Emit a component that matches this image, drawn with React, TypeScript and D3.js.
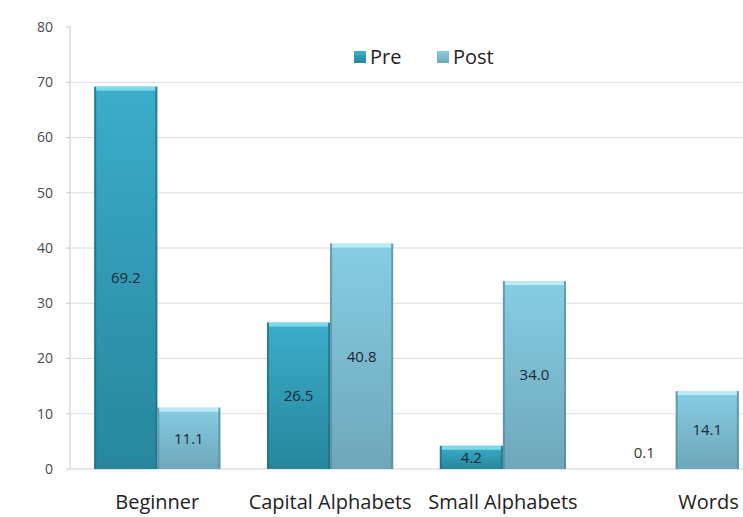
import React from "react";
import * as d3 from "d3";

const categories = ["Beginner", "Capital Alphabets", "Small Alphabets", "Words"];
const seriesNames = ["Pre", "Post"];
const preValues = [69.2, 26.5, 4.2, 0.1];
const postValues = [11.1, 40.8, 34.0, 14.1];
const yTicks = [0, 10, 20, 30, 40, 50, 60, 70, 80];

const W = 743;
const H = 517;
const margin = { top: 27, right: -20, bottom: 48, left: 70 };

const colors: Record<string, { top: string; bottom: string; edge: string; hi: string }> = {
  Pre: { top: "#3badca", bottom: "#27869d", edge: "#1d6e82", hi: "#8fe3f2" },
  Post: { top: "#86cde3", bottom: "#6fa7ba", edge: "#56899c", hi: "#c9f3fb" },
};

export default function App() {
  const x0 = d3
    .scaleBand<string>()
    .domain(categories)
    .range([margin.left, W - margin.right])
    .paddingInner(0.27)
    .paddingOuter(0.14);
  const x1 = d3.scaleBand<string>().domain(seriesNames).range([0, x0.bandwidth()]);
  const y = d3.scaleLinear().domain([0, 80]).range([H - margin.bottom, margin.top]);

  const rows = categories.map((c, i) => ({ cat: c, vals: [preValues[i], postValues[i]] }));
  const font = "'Open Sans', 'Noto Sans', sans-serif";

  return (
    <svg
      width={W}
      height={H}
      style={{ position: "absolute", left: 0, top: 0, background: "#fff" }}
      fontFamily={font}
    >
      <defs>
        {seriesNames.map((s) => (
          <linearGradient key={s} id={`g-${s}`} x1="0" y1="0" x2="0" y2="1">
            <stop offset="0%" stopColor={colors[s].top} />
            <stop offset="100%" stopColor={colors[s].bottom} />
          </linearGradient>
        ))}
      </defs>

      {/* grid + y axis */}
      {yTicks.map((t) => (
        <g key={t}>
          {t > 0 && t < 80 && (
            <line x1={margin.left} x2={W} y1={y(t)} y2={y(t)} stroke="#dcdcdc" strokeWidth={1} />
          )}
          <line x1={margin.left - 4} x2={margin.left} y1={y(t)} y2={y(t)} stroke="#c8c8c8" />
          <text x={53} y={y(t)} dy="0.35em" textAnchor="end" fontSize={14} fill="#4a4a4a">
            {t}
          </text>
        </g>
      ))}
      <line x1={margin.left} x2={margin.left} y1={y(80)} y2={y(0)} stroke="#c8c8c8" />
      <line x1={margin.left} x2={W} y1={y(0)} y2={y(0)} stroke="#d0d0d0" />

      {/* bars */}
      {rows.map((r) => (
        <g key={r.cat} transform={`translate(${x0(r.cat)},0)`}>
          {r.vals.map((v, j) => {
            const s = seriesNames[j];
            const bx = x1(s) ?? 0;
            const bw = x1.bandwidth();
            const top = y(v);
            const h = y(0) - top;
            const labelY = h < 18 ? top - 16 : top + h / 2;
            return (
              <g key={s}>
                {h > 1 && (
                  <>
                    <rect x={bx} y={top} width={bw} height={h} fill={`url(#g-${s})`} />
                    <rect x={bx} y={top} width={2} height={h} fill={colors[s].edge} opacity={0.7} />
                    <rect x={bx + bw - 2} y={top} width={2} height={h} fill={colors[s].edge} opacity={0.7} />
                    <rect x={bx + 2} y={top} width={bw - 4} height={Math.min(4, h)} fill={colors[s].hi} opacity={0.8} />
                  </>
                )}
                <text
                  x={bx + bw / 2}
                  y={labelY}
                  dy="0.35em"
                  textAnchor="middle"
                  fontSize={15}
                  fill={h < 18 && v < 1 ? "#333" : "#1a2a35"}
                >
                  {v.toFixed(1)}
                </text>
              </g>
            );
          })}
        </g>
      ))}

      {/* category labels */}
      {categories.map((c, i) => {
        const last = i === categories.length - 1;
        const cx = (x0(c) ?? 0) + x0.bandwidth() / 2;
        const ex = Math.min((x0(c) ?? 0) + x0.bandwidth(), W - 3);
        return (
          <text
            key={c}
            x={last ? ex : cx}
            y={509}
            textAnchor={last ? "end" : "middle"}
            fontSize={20}
            fill="#222"
          >
            {c}
          </text>
        );
      })}

      {/* legend */}
      {seriesNames.map((s, i) => {
        const lx = 354 + i * 83;
        return (
          <g key={s}>
            <rect x={lx} y={51} width={12} height={12} fill={`url(#g-${s})`} />
            <text x={lx + 16} y={64} fontSize={20} fill="#222">
              {s}
            </text>
          </g>
        );
      })}
    </svg>
  );
}
